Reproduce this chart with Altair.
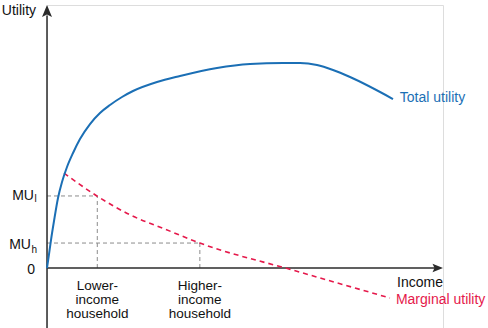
import altair as alt
import pandas as pd

# ---- data (income / utility in abstract units: income 0-100, utility 0-100) ----
total_income = [0, 0.51, 1.01, 1.77, 2.78, 3.79, 5.05, 6.57, 8.33, 10.86, 13.38, 15.91,
                18.94, 21.72, 27.78, 33.59, 42.93, 51.26, 59.60, 63.89, 68.18, 72.22, 76.52, 87.37]
total_utility = [0, 5.32, 10.65, 17.87, 26.62, 32.70, 38.40, 43.73, 49.05, 54.75, 58.94, 61.98,
                 65.02, 67.30, 70.72, 73.00, 76.05, 77.57, 77.95, 77.95, 77.19, 75.29, 72.62, 64.26]

marginal_income = [4.3, 12.6, 21.0, 29.8, 38.6, 62.1, 86.6]
marginal_utility = [36.1, 27.4, 20.2, 14.8, 9.5, -0.8, -11.4]

household_income = [12.7, 38.6]          # lower-income, higher-income
household_mu = [27.4, 9.5]               # MU_l, MU_h
household_labels = ["Lower-\nincome\nhousehold", "Higher-\nincome\nhousehold"]

FONT = "Liberation Sans"
BLUE = "#1b6fb5"
RED = "#e5194b"
AXIS = "#2b2b2b"
GUIDE = "#8c8c8c"

X = alt.Scale(domain=[0, 100], nice=False, zero=False)
Y = alt.Scale(domain=[-22.8, 100], nice=False, zero=False)


def xe(f):
    return alt.X(f, type="quantitative", scale=X, axis=None)


def ye(f):
    return alt.Y(f, type="quantitative", scale=Y, axis=None)


total_df = pd.DataFrame({"income": total_income, "utility": total_utility})
marg_df = pd.DataFrame({"income": marginal_income, "utility": marginal_utility})
hh_df = pd.DataFrame({"income": household_income, "mu": household_mu,
                      "label": household_labels, "zero": [0, 0]})

# axes drawn as rules with arrowheads
yaxis_df = pd.DataFrame({"x": [0], "y1": [-22.8], "y2": [96]})
xaxis_df = pd.DataFrame({"y": [0], "x1": [0], "x2": [98]})

yaxis = alt.Chart(yaxis_df).mark_rule(color=AXIS, strokeWidth=1.5).encode(
    x=xe("x"), y=ye("y1"), y2="y2")
xaxis = alt.Chart(xaxis_df).mark_rule(color=AXIS, strokeWidth=1.5).encode(
    y=ye("y"), x=xe("x1"), x2="x2")

up_arrow = alt.Chart(pd.DataFrame({"x": [0], "y": [100]})).mark_point(
    shape="M0,0 L1,2.4 L0,1.9 L-1,2.4 Z", filled=True, size=100, color=AXIS,
    opacity=1, strokeWidth=0).encode(x=xe("x"), y=ye("y"))
right_arrow = alt.Chart(pd.DataFrame({"x": [100], "y": [0]})).mark_point(
    shape="M0,0 L-2.1,0.85 L-1.7,0 L-2.1,-0.85 Z", filled=True, size=100, color=AXIS,
    opacity=1, strokeWidth=0).encode(x=xe("x"), y=ye("y"))

# guides
h_guides = alt.Chart(hh_df).mark_rule(color=GUIDE, strokeWidth=1, strokeDash=[4, 3]).encode(
    x=xe("zero"), x2="income", y=ye("mu"))
v_guides = alt.Chart(hh_df).mark_rule(color=GUIDE, strokeWidth=1, strokeDash=[4, 3]).encode(
    x=xe("income"), y=ye("zero"), y2="mu")

total_line = alt.Chart(total_df).mark_line(color=BLUE, strokeWidth=2, interpolate="monotone").encode(
    x=xe("income"), y=ye("utility"))
marg_line = alt.Chart(marg_df).mark_line(color=RED, strokeWidth=1.6, strokeDash=[5, 4],
                                         interpolate="monotone").encode(
    x=xe("income"), y=ye("utility"))

hh_text = alt.Chart(hh_df).mark_text(font=FONT, fontSize=13.5, color="#111", align="center",
                                     baseline="top", lineBreak="\n", lineHeight=14).encode(
    x=xe("income"), y=alt.value(279 - 5), text="label")


# other labels
def label(txt, x, y, align="left", size=14, color="#111"):
    return alt.Chart(pd.DataFrame({"x": [x], "y": [y], "t": [txt]})).mark_text(
        font=FONT, fontSize=size, color=color, align=align, baseline="middle").encode(
        x=xe("x"), y=ye("y"), text="t")


labels = [
    label("Utility", -11.4, 97.7),
    label("MU", -3.3, 27.4, align="right"),
    label("l", -3.15, 26.2, size=10),
    label("MU", -4.05, 8.75, align="right"),
    label("h", -3.9, 6.8, size=10),
    label("0", -3.0, -0.8, align="right"),
    label("Income", 88.4, -5.7),
    label("Total utility", 89.1, 64.6, color=BLUE),
    label("Marginal utility", 88.1, -12.2, color=RED),
]

chart = alt.layer(
    h_guides, v_guides, xaxis, yaxis, up_arrow, right_arrow,
    marg_line, total_line, hh_text, *labels
).properties(
    width=396, height=323,
    autosize=alt.AutoSizeParams(type="none"),
    padding={"left": 47, "top": 5, "right": 45, "bottom": 0},
).configure_view(stroke=None).configure(background="white")

chart.save("out.html", embed_options={"renderer": "svg", "actions": False})
